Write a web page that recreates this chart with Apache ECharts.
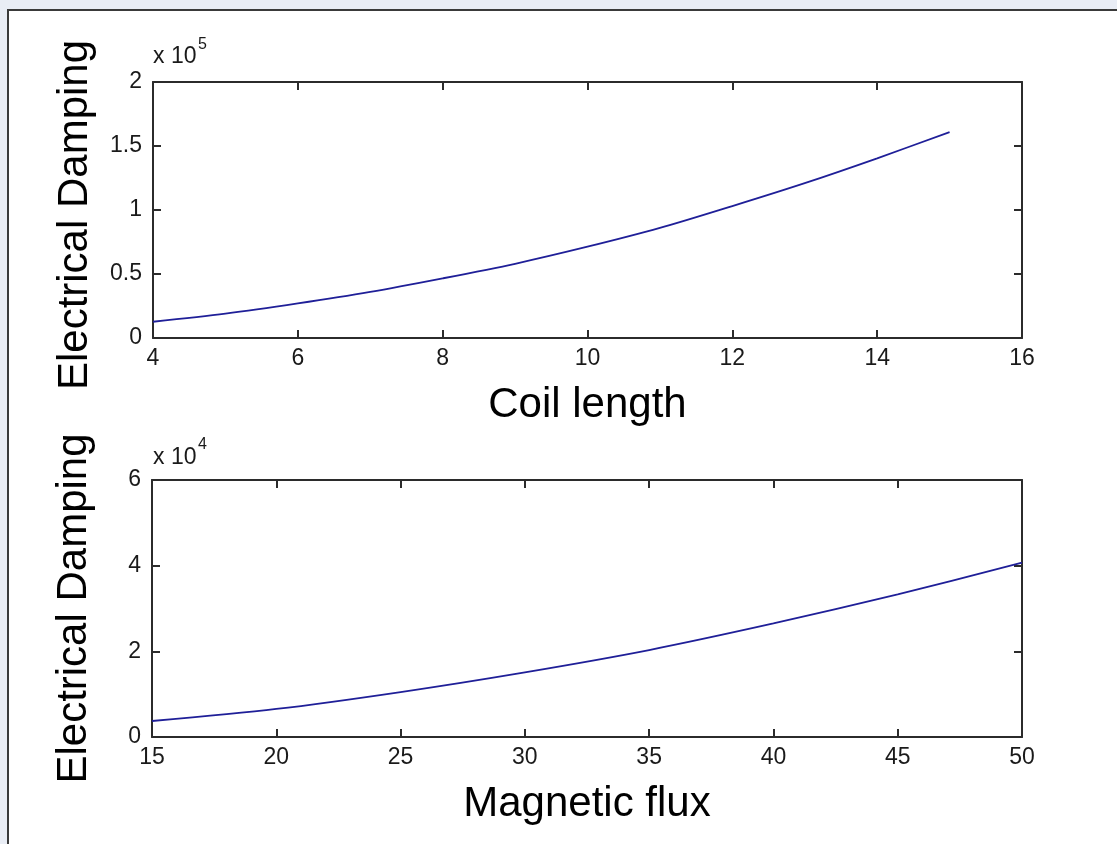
<!DOCTYPE html>
<html>
<head>
<meta charset="utf-8">
<script src="https://cdn.jsdelivr.net/npm/echarts@6/dist/echarts.min.js"></script>
<style>
html,body{margin:0;padding:0;background:#e9edf5;}
#chart{width:1117px;height:844px;}
</style>
</head>
<body>
<div id="chart"></div>
<script>
// Top panel: Electrical damping vs coil length (values in raw units, axis shown x 10^5)
const coilLength = [4, 5, 6, 7, 8, 9, 10, 11, 12, 13, 14, 15];
const dampingCoil = [12700, 19000, 27000, 36000, 46600, 58000, 71300, 86000, 103100, 121000, 140400, 160900];
// Bottom panel: Electrical damping vs magnetic flux (axis shown x 10^4)
const magneticFlux = [15, 20, 25, 30, 35, 40, 45, 50];
const dampingFlux = [3740, 6550, 10500, 15100, 20300, 26500, 33300, 40700];

const topXTicks = {min: 4, max: 16, interval: 2};
const topYTicks = {min: 0, max: 200000, interval: 50000, scale: 1e5};
const botXTicks = {min: 15, max: 50, interval: 5};
const botYTicks = {min: 0, max: 60000, interval: 20000, scale: 1e4};

const FONT = 'Liberation Sans, Arial, Helvetica, sans-serif';
const AX = '#2b2b2b';
const LINE = '#1f1f98';

function xAx(grid, t, pos, name, showLabel) {
  return {
    type: 'value', gridIndex: grid, position: pos,
    min: t.min, max: t.max, interval: t.interval,
    axisLine: {show: true, onZero: false, lineStyle: {color: AX, width: 2}},
    axisTick: {show: true, inside: true, length: 8, lineStyle: {color: AX, width: 2}},
    axisLabel: {show: showLabel, color: '#1a1a1a', fontSize: 23, fontFamily: FONT, margin: 9},
    splitLine: {show: false},
    name: showLabel ? name : '', nameLocation: 'middle', nameGap: 46,
    nameTextStyle: {color: '#000', fontSize: 42, fontFamily: FONT}
  };
}
function yAx(grid, t, pos, name, showLabel, shift) {
  return {
    type: 'value', gridIndex: grid, position: pos,
    min: t.min, max: t.max, interval: t.interval,
    axisLine: {show: true, onZero: false, lineStyle: {color: AX, width: 2}},
    axisTick: {show: true, inside: true, length: 8, lineStyle: {color: AX, width: 2}},
    axisLabel: {show: showLabel, color: '#1a1a1a', fontSize: 23, fontFamily: FONT, margin: 11,
      formatter: v => String(+(v / t.scale).toFixed(2))},
    splitLine: {show: false},
    name: showLabel ? name : '', nameLocation: 'middle', nameGap: 57, nameRotate: 90,
    nameTextStyle: {color: '#000', fontSize: 42, fontFamily: FONT, padding: shift || 0}
  };
}

const chart = echarts.init(document.getElementById('chart'), null, {renderer: 'canvas'});
chart.setOption({
  backgroundColor: '#e9edf5',
  animation: false,
  graphic: [
    {type: 'rect', z: -10, shape: {x: 8, y: 10, width: 1200, height: 900},
     style: {fill: '#ffffff', stroke: '#3a3a3a', lineWidth: 2}},
    {type: 'text', left: 153, top: 45, style: {text: 'x 10', fontSize: 23, fontFamily: FONT, fill: '#1a1a1a'}},
    {type: 'text', left: 198, top: 37, style: {text: '5', fontSize: 16, fontFamily: FONT, fill: '#1a1a1a'}},
    {type: 'text', left: 153, top: 446, style: {text: 'x 10', fontSize: 23, fontFamily: FONT, fill: '#1a1a1a'}},
    {type: 'text', left: 198, top: 437, style: {text: '4', fontSize: 16, fontFamily: FONT, fill: '#1a1a1a'}}
  ],
  grid: [
    {left: 153, top: 82, width: 869, height: 256, containLabel: false},
    {left: 152, top: 480, width: 870, height: 257, containLabel: false}
  ],
  xAxis: [
    xAx(0, topXTicks, 'bottom', 'Coil length', true),
    xAx(0, topXTicks, 'top', '', false),
    xAx(1, botXTicks, 'bottom', 'Magnetic flux', true),
    xAx(1, botXTicks, 'top', '', false)
  ],
  yAxis: [
    yAx(0, topYTicks, 'left', 'Electrical Damping', true, [0, 10, 0, 0]),
    yAx(0, topYTicks, 'right', '', false),
    yAx(1, botYTicks, 'left', 'Electrical Damping', true),
    yAx(1, botYTicks, 'right', '', false)
  ],
  series: [
    {type: 'line', xAxisIndex: 0, yAxisIndex: 0, smooth: 0.3, symbol: 'none',
     lineStyle: {color: LINE, width: 1.8},
     data: coilLength.map((x, i) => [x, dampingCoil[i]])},
    {type: 'line', xAxisIndex: 2, yAxisIndex: 2, smooth: 0.3, symbol: 'none',
     lineStyle: {color: LINE, width: 1.8},
     data: magneticFlux.map((x, i) => [x, dampingFlux[i]])}
  ]
});
</script>
</body>
</html>
